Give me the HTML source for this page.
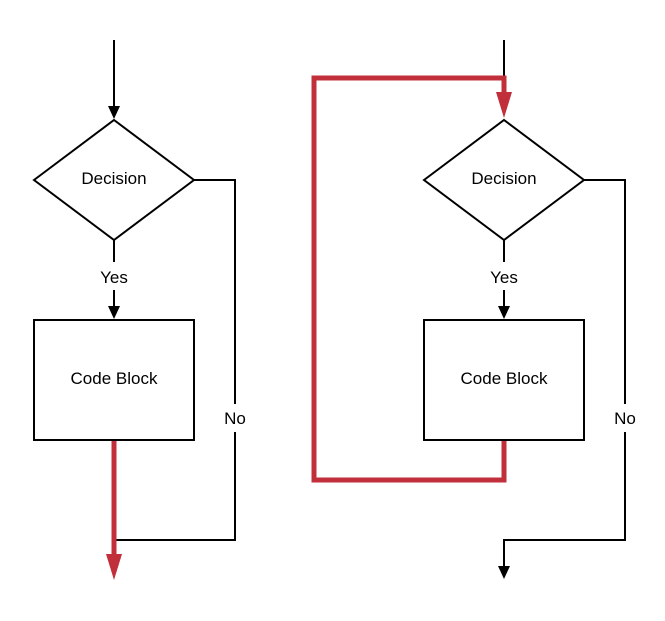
<!DOCTYPE html>
<html><head><style>body{margin:0;background:#fff}svg{display:block}</style></head>
<body>
<svg width="665" height="621" viewBox="0 0 665 621" xmlns="http://www.w3.org/2000/svg" font-family="Liberation Sans, sans-serif" font-size="17">
<g fill="none" stroke="#000" stroke-width="2">
<line x1="114" y1="40" x2="114" y2="106"/>
<polygon points="34,180 114,120 194,180 114,240" fill="#fff"/>
<line x1="114" y1="240" x2="114" y2="262"/>
<line x1="114" y1="290" x2="114" y2="306"/>
<rect x="34" y="320" width="160" height="120" fill="#fff"/>
<polyline points="194,180 235,180 235,404"/>
<polyline points="235,432 235,540 116,540"/>
<line x1="504" y1="40" x2="504" y2="78"/>
<polygon points="424,180 504,120 584,180 504,240" fill="#fff"/>
<line x1="504" y1="240" x2="504" y2="262"/>
<line x1="504" y1="290" x2="504" y2="306"/>
<rect x="424" y="320" width="160" height="120" fill="#fff"/>
<polyline points="584,180 625,180 625,404"/>
<polyline points="625,432 625,540 504,540 504,566"/>
</g>
<g fill="#000">
<polygon points="108,106 120,106 114,119"/>
<polygon points="108,306 120,306 114,319"/>
<polygon points="498,306 510,306 504,319"/>
<polygon points="498,566 510,566 504,579"/>
</g>
<g fill="none" stroke="#c1303a" stroke-width="5">
<line x1="114" y1="441" x2="114" y2="556"/>
<polyline points="504,441 504,480 314,480 314,78 504,78 504,94"/>
</g>
<g fill="#c1303a">
<polygon points="106,554 122,554 114,580"/>
<polygon points="496,92 512,92 504,118"/>
</g>
<g text-anchor="middle" fill="#000">
<text x="114" y="184">Decision</text>
<text x="114" y="283">Yes</text>
<text x="114" y="384">Code Block</text>
<text x="235" y="424">No</text>
<text x="504" y="184">Decision</text>
<text x="504" y="283">Yes</text>
<text x="504" y="384">Code Block</text>
<text x="625" y="424">No</text>
</g>
</svg>
</body></html>
